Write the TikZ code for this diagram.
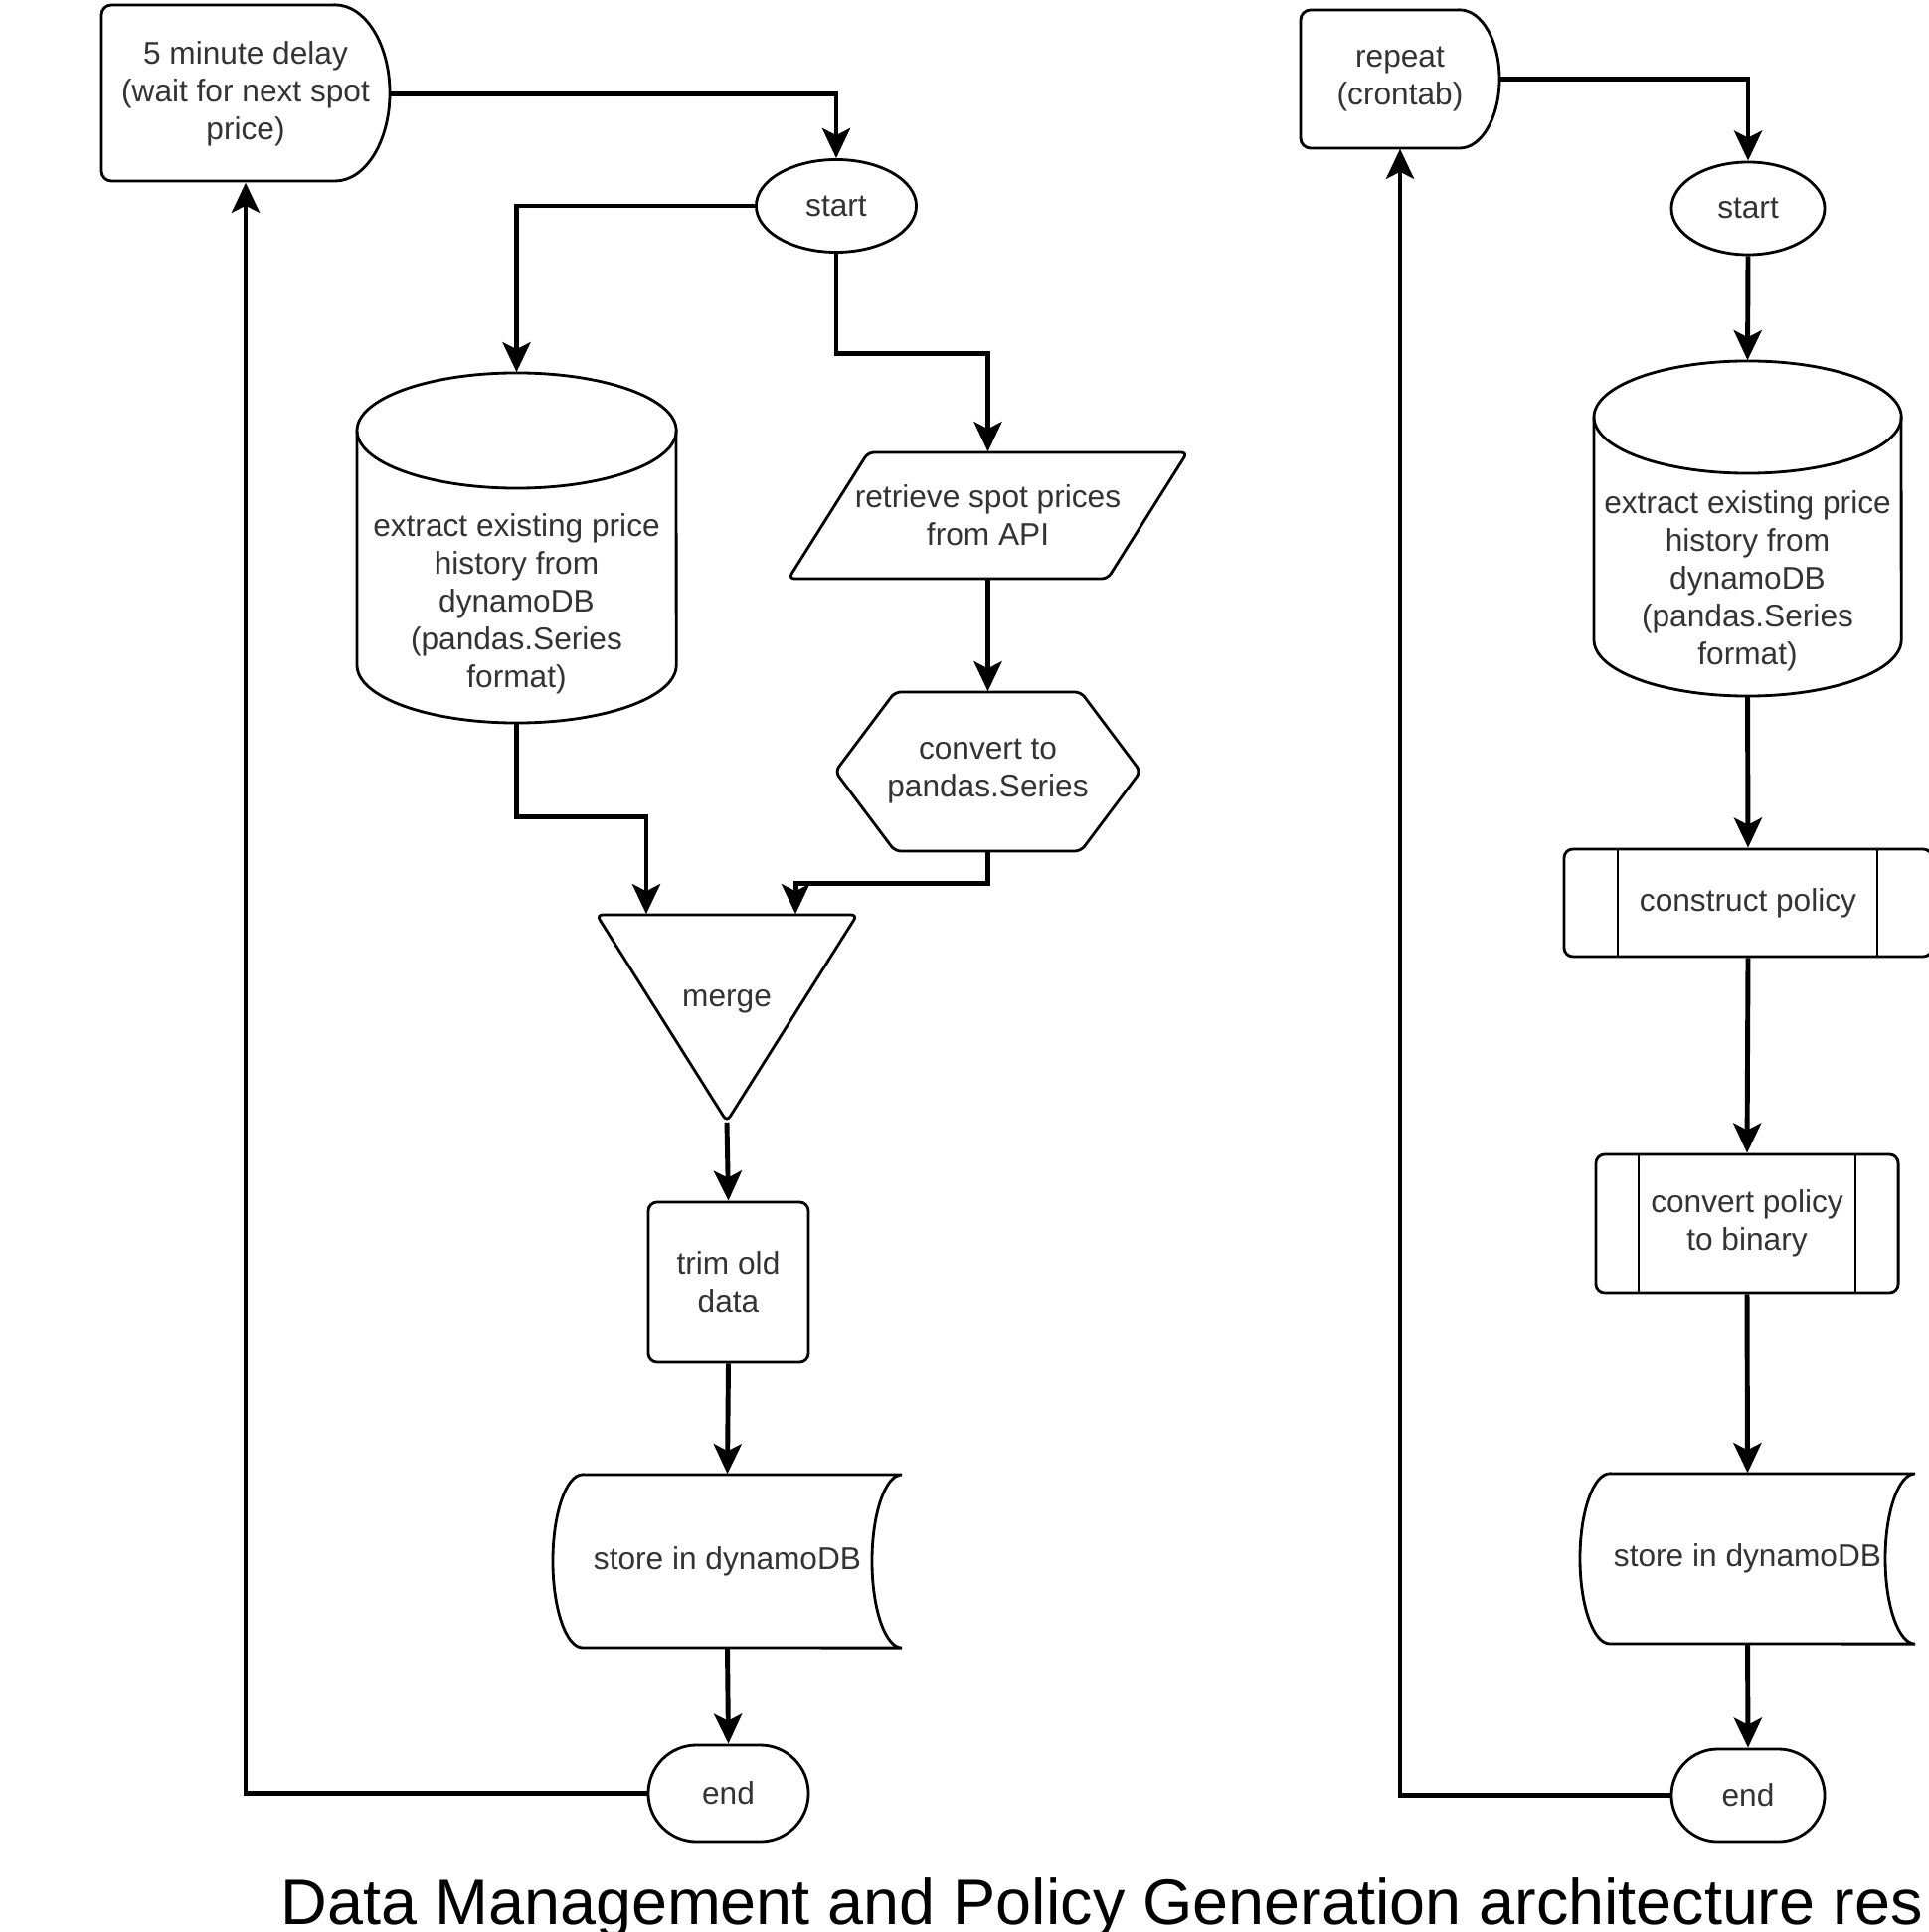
\documentclass[tikz,border=0pt]{standalone}
\usepackage{fontspec}
\setmainfont{Liberation Sans}
\usetikzlibrary{shapes.geometric,shapes.misc,arrows.meta}
\definecolor{txt}{HTML}{333333}
\begin{document}
\begin{tikzpicture}[x=0.01cm,y=-0.01cm]
		\tikzstyle{lbl}=[align=center,text=txt,font=\fontsize{9}{10.8}\selectfont,inner sep=0pt]
		\tikzstyle{outl}=[line width=0.8pt,rounded corners=0.06cm]
		\tikzstyle{box}=[lbl,draw,line width=0.8pt,rounded corners=0.09cm]
		\tikzstyle{begin}=[lbl,ellipse,draw,line width=0.8pt]
		\tikzstyle{finish}=[lbl,rounded rectangle,draw,line width=0.8pt]
		\tikzstyle{flow}=[-{Stealth[length=0.3cm,width=0.28cm,inset=0.07cm]},line width=1.4pt]
		\useasboundingbox (0,0) rectangle (1940,1943);
		\clip (0,0) rectangle (1940,1943);

		\node[lbl,minimum width=2.90cm,minimum height=1.77cm] (delay) at (247,94.5) {5 minute delay\\(wait for next spot\\price)};
		\node[begin,minimum width=1.61cm,minimum height=0.93cm] (start1) at (841,207) {start};
		\node[lbl,minimum width=3.21cm,minimum height=3.52cm,
			label={[lbl,yshift=-0.56cm]center:extract existing price\\history from\\dynamoDB\\(pandas.Series\\format)}] (hist1) at (519.5,551) {};
		\node[lbl,minimum width=4.01cm,minimum height=1.27cm] (api) at (993.5,518.5) {retrieve spot prices\\from API};
		\node[lbl,minimum width=3.07cm,minimum height=1.60cm] (conv) at (993.5,776) {convert to\\pandas.Series};
		\node[lbl,minimum width=2.62cm,minimum height=2.08cm,
			label={[lbl,yshift=0.17cm]center:merge}] (merge) at (731,1024) {};
		\node[box,minimum width=1.61cm,minimum height=1.61cm] (trim) at (732.5,1289.5) {trim old\\data};
		\node[lbl,minimum width=3.51cm,minimum height=1.74cm] (store1) at (731.5,1570) {store in dynamoDB};
		\node[finish,minimum width=1.61cm,minimum height=0.97cm] (end1) at (732.5,1803.5) {end};

		\node[lbl,minimum width=2.00cm,minimum height=1.39cm] (repeat) at (1408,79.5) {repeat\\(crontab)};
		\node[begin,minimum width=1.54cm,minimum height=0.93cm] (start2) at (1758,209.5) {start};
		\node[lbl,minimum width=3.09cm,minimum height=3.37cm,
			label={[lbl,yshift=-0.53cm]center:extract existing price\\history from\\dynamoDB\\(pandas.Series\\format)}] (hist2) at (1757.5,531.5) {};
		\node[box,minimum width=3.70cm,minimum height=1.08cm] (policy) at (1758,908) {construct policy};
		\node[box,minimum width=3.04cm,minimum height=1.39cm] (binary) at (1757,1230.5) {convert policy\\to binary};
		\node[lbl,minimum width=3.37cm,minimum height=1.71cm] (store2) at (1757.5,1567.5) {store in dynamoDB};
		\node[finish,minimum width=1.54cm,minimum height=0.93cm] (end2) at (1758,1805.5) {end};

		\node[anchor=base west,inner sep=0pt,font=\fontsize{18.4}{22}\selectfont] (caption) at (282,1935) {Data Management and Policy Generation architecture res};

		% outlines
		\draw[line width=0.8pt] (337,5) [rounded corners=0.1cm] -- (102,5) -- (102,182) [sharp corners] -- (337,182)
			arc[start angle=-90,end angle=90,x radius=0.55cm,y radius=0.885cm] -- cycle;
		\draw[line width=0.8pt] (1468,10) [rounded corners=0.1cm] -- (1308,10) -- (1308,149) [sharp corners] -- (1468,149)
			arc[start angle=-90,end angle=90,x radius=0.40cm,y radius=0.695cm] -- cycle;
		\draw[line width=0.8pt] (359,433) arc[start angle=180,end angle=-180,x radius=1.605cm,y radius=0.58cm];
		\draw[line width=0.8pt] (359,433) -- (359,669) arc[start angle=180,end angle=360,x radius=1.605cm,y radius=0.58cm] -- (680,433);
		\draw[line width=0.8pt] (1603,419.5) arc[start angle=180,end angle=-180,x radius=1.545cm,y radius=0.565cm];
		\draw[line width=0.8pt] (1603,419.5) -- (1603,643.5) arc[start angle=180,end angle=360,x radius=1.545cm,y radius=0.565cm] -- (1912,419.5);
		\draw[outl] (873,455) -- (1194,455) -- (1114,582) -- (793,582) -- cycle;
		\draw[outl] (840,776) -- (900,696) -- (1087,696) -- (1147,776) -- (1087,856) -- (900,856) -- cycle;
		\draw[outl] (600,920) -- (862,920) -- (731,1128) -- cycle;
		\draw[line width=0.8pt] (586,1483) -- (907,1483) arc[start angle=90,end angle=270,x radius=0.3cm,y radius=0.87cm]
			-- (586,1657) arc[start angle=270,end angle=90,x radius=0.3cm,y radius=0.87cm] -- cycle;
		\draw[line width=0.8pt] (1619,1482) -- (1926,1482) arc[start angle=90,end angle=270,x radius=0.3cm,y radius=0.855cm]
			-- (1619,1653) arc[start angle=270,end angle=90,x radius=0.3cm,y radius=0.855cm] -- cycle;
		\draw[line width=0.8pt] (1627,854) -- (1627,962) (1888,854) -- (1888,962);
		\draw[line width=0.8pt] (1648,1161) -- (1648,1300) (1866,1161) -- (1866,1300);

		\coordinate (in1) at ([xshift=-0.81cm]merge.north);
		\coordinate (in2) at ([xshift=0.69cm]merge.north);

		\draw[flow] (delay.east) -| (start1.north);
		\draw[flow] (start1.west) -| (hist1.north);
		\draw[flow] (start1.south) -- ++(0,101) -| (api.north);
		\draw[flow] (api.south) -- (conv.north);
		\draw[flow] (hist1.south) -- ++(0,94) -| (in1);
		\draw[flow] (conv.south) -- ++(0,32) -| (in2);
		\draw[flow] (merge.south) -- (trim.north);
		\draw[flow] (trim.south) -- (store1.north);
		\draw[flow] (store1.south) -- (end1.north);
		\draw[flow] (end1.west) -| (delay.south);

		\draw[flow] (repeat.east) -| (start2.north);
		\draw[flow] (start2.south) -- (hist2.north);
		\draw[flow] (hist2.south) -- (policy.north);
		\draw[flow] (policy.south) -- (binary.north);
		\draw[flow] (binary.south) -- (store2.north);
		\draw[flow] (store2.south) -- (end2.north);
		\draw[flow] (end2.west) -| (repeat.south);
\end{tikzpicture}
\end{document}
